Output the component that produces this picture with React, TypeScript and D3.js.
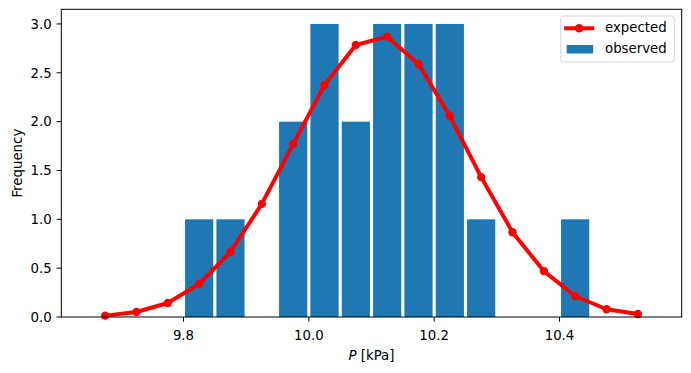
import React from 'react'
import * as d3 from 'd3'

// histogram bins (centres, width 0.05) and counts
const binCenters = [
  9.675, 9.725, 9.775, 9.825, 9.875, 9.925, 9.975, 10.025, 10.075, 10.125, 10.175, 10.225, 10.275,
  10.325, 10.375, 10.425, 10.475, 10.525,
]
const binWidth = 0.05
const observed = [0, 0, 0, 1, 1, 0, 2, 3, 2, 3, 3, 3, 1, 0, 0, 1, 0, 0]
const expected = [
  0.014, 0.051, 0.143, 0.338, 0.666, 1.158, 1.77, 2.375, 2.785, 2.87, 2.59, 2.057, 1.432, 0.868, 0.47,
  0.215, 0.079, 0.031,
]
const xTicks = [9.8, 10.0, 10.2, 10.4]
const yTicks = [0, 0.5, 1.0, 1.5, 2.0, 2.5, 3.0]

const W = 691
const H = 373
const FONT = 'DejaVu Sans, sans-serif'
const FS = 13.33
const BLUE = '#1f77b4'
const RED = '#ff0000'

const App = () => {
  const left = 61.3
  const right = 681.7
  const top = 9.3
  const bottom = 317

  // matplotlib style 5% margins
  const lo = binCenters[0] - binWidth / 2
  const hi = binCenters[binCenters.length - 1] + binWidth / 2
  const pad = (hi - lo) * 0.05
  const x = d3.scaleLinear().domain([lo - pad, hi + pad]).range([left, right])
  const yMax = (d3.max(observed) as number) * 1.05
  const y = d3.scaleLinear().domain([0, yMax]).range([bottom, top])

  const line = d3
    .line<number>()
    .x((_, i) => x(binCenters[i]))
    .y((d) => y(d))

  const bw = binWidth * 0.9

  const legX = right - 7.4 - 113.6
  const legY = top + 6.7

  return (
    <svg
      width={W}
      height={H}
      style={{ position: 'absolute', left: 0, top: 0, background: '#fff' }}
      fontFamily={FONT}
    >
      <rect x={0} y={0} width={W} height={H} fill="#fff" />
      <g>
        {observed.map((v, i) =>
          v > 0 ? (
            <rect
              key={i}
              x={x(binCenters[i] - bw / 2)}
              y={y(v)}
              width={x(binCenters[i] + bw / 2) - x(binCenters[i] - bw / 2)}
              height={y(0) - y(v)}
              fill={BLUE}
            />
          ) : null
        )}
      </g>
      <path
        d={line(expected) || ''}
        fill="none"
        stroke={RED}
        strokeWidth={4}
        strokeLinejoin="round"
        strokeLinecap="butt"
      />
      {expected.map((v, i) => (
        <circle key={i} cx={x(binCenters[i])} cy={y(v)} r={4.2} fill={RED} />
      ))}

      {/* spines */}
      <rect x={left} y={top} width={right - left} height={bottom - top} fill="none" stroke="#000" strokeWidth={1} />

      {/* x axis */}
      {xTicks.map((t) => (
        <g key={t}>
          <line x1={x(t)} x2={x(t)} y1={bottom} y2={bottom + 4.7} stroke="#000" strokeWidth={1} />
          <text x={x(t)} y={339.5} textAnchor="middle" fontSize={FS} fill="#000">
            {d3.format('.1f')(t)}
          </text>
        </g>
      ))}
      <text x={(left + right) / 2} y={359.5} textAnchor="middle" fontSize={FS} fill="#000">
        <tspan fontStyle="italic">P</tspan> [kPa]
      </text>

      {/* y axis */}
      {yTicks.map((t) => (
        <g key={t}>
          <line x1={left - 4.7} x2={left} y1={y(t)} y2={y(t)} stroke="#000" strokeWidth={1} />
          <text x={left - 9.6} y={y(t)} dy="0.36em" textAnchor="end" fontSize={FS} fill="#000">
            {d3.format('.1f')(t)}
          </text>
        </g>
      ))}
      <text
        transform={`translate(21.5,${(top + bottom) / 2}) rotate(-90)`}
        textAnchor="middle"
        fontSize={FS}
        fill="#000"
      >
        Frequency
      </text>

      {/* legend */}
      <g transform={`translate(${legX},${legY})`}>
        <rect x={0} y={0} width={113.6} height={46} rx={2.5} fill="#fff" fillOpacity={0.8} stroke="#cccccc" strokeOpacity={0.8} />
        <line x1={3.5} x2={33.5} y1={12.3} y2={12.3} stroke={RED} strokeWidth={4} />
        <circle cx={18.5} cy={12.3} r={4.2} fill={RED} />
        <text x={44.3} y={16.4} fontSize={FS} fill="#000">
          expected
        </text>
        <rect x={6} y={29} width={26.5} height={8.5} fill={BLUE} />
        <text x={44.3} y={37} fontSize={FS} fill="#000">
          observed
        </text>
      </g>
    </svg>
  )
}

export default App
